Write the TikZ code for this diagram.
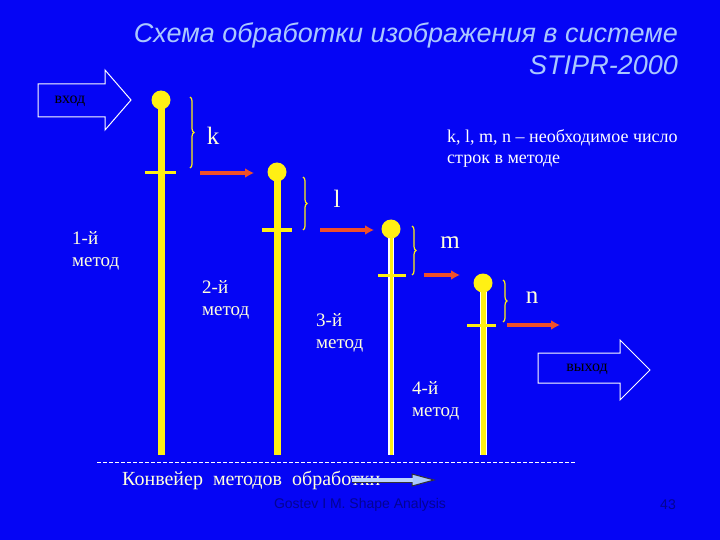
\documentclass[tikz,border=0pt]{standalone}
\usepackage{fontspec}
\setmainfont{Liberation Serif}
\setsansfont{Liberation Sans}
\usetikzlibrary{decorations.pathreplacing,arrows.meta}
\definecolor{bg}{RGB}{5,5,245}
\definecolor{ylw}{RGB}{255,240,20}
\definecolor{redar}{RGB}{240,80,40}
\definecolor{ttl}{RGB}{170,200,255}
\definecolor{txt}{RGB}{255,255,220}
\begin{document}
\begin{tikzpicture}[x=1pt,y=-1pt,
  bar/.style={ylw,line width=7pt},
  dbar/.style={white,line width=6pt,postaction={draw,ylw,line width=3pt}},
  knob/.style={circle,fill=ylw,minimum size=19pt,inner sep=0},
  cross/.style={ylw,line width=3pt},
  brc/.style={draw=ylw,line width=1.2pt,decorate,decoration={brace,amplitude=4pt}},
  redarr/.style={redar,line width=3.5pt,-{Latex[length=9pt,width=10pt]}},
  lbl/.style={txt,font=\fontsize{19}{22}\selectfont,align=left,anchor=north west,inner sep=0},
  big/.style={txt,font=\fontsize{25}{26}\selectfont,inner sep=0},
  blk/.style={draw=white,line width=1pt,fill=bg}]
\fill[bg] (0,0) rectangle (720,540);
\useasboundingbox (0,0) rectangle (720,540);
\node[ttl,font=\sffamily\itshape\fontsize{27}{32}\selectfont,align=right,anchor=north east,inner sep=0] (title) at (678,23) {Схема обработки изображения в системе\\STIPR-2000};
\draw[blk] (38,84) -- (105,84) -- (105,70) -- (131,100) -- (105,130) -- (105,117) -- (38,117) -- cycle;
\node[font=\fontsize{16}{16}\selectfont,text=black,inner sep=0] (in) at (70,101) {вход};
\draw[blk] (538,353) -- (620,353) -- (620,340) -- (650,370) -- (620,400) -- (620,383) -- (538,383) -- cycle;
\node[font=\fontsize{16}{16}\selectfont,text=black,inner sep=0] (out) at (587,369) {выход};
% bars
\coordinate (b1t) at (161,100); \coordinate (b1b) at (161,455);
\coordinate (b2t) at (277,172); \coordinate (b2b) at (277,455);
\coordinate (b3t) at (391,229); \coordinate (b3b) at (391,455);
\coordinate (b4t) at (483,283); \coordinate (b4b) at (483,455);
\draw[bar] (b1t) -- (b1b);
\draw[bar] (b2t) -- (b2b);
\draw[dbar] (b3t) -- (b3b);
\draw[white,line width=7pt,postaction={draw,ylw,line width=5pt}] (b4t) -- (b4b);
\node[knob] (k1) at (b1t) {};
\node[knob] (k2) at (b2t) {};
\node[knob] (k3) at (b3t) {};
\node[knob] (k4) at (b4t) {};
\draw[cross] (145,173) -- (176,173);
\draw[cross] (262,230) -- (292,230);
\draw[cross] (378,275) -- (406,275);
\draw[cross] (467,325) -- (496,325);
\draw[brc] (190,97) -- (190,168);
\draw[brc] (303,177) -- (303,230);
\draw[brc] (412,226) -- (412,275);
\draw[brc] (503,280) -- (503,322);
\node[big] (k) at (213,136) {k};
\node[big] (l) at (337,199) {l};
\node[big] (m) at (450,243) {m};
\node[big] (n) at (532,298) {n};
\coordinate (a1s) at (200,173); \coordinate (a1e) at (254,173);
\coordinate (a2s) at (320,230); \coordinate (a2e) at (374,230);
\coordinate (a3s) at (424,275); \coordinate (a3e) at (460,275);
\coordinate (a4s) at (507,325); \coordinate (a4e) at (560,325);
\draw[redarr] (a1s) -- (a1e);
\draw[redarr] (a2s) -- (a2e);
\draw[redarr] (a3s) -- (a3e);
\draw[redarr] (a4s) -- (a4e);
\node[lbl,white,font=\fontsize{18}{21}\selectfont] (note) at (447,129) {k, l, m, n -- необходимое число\\строк в методе};
\node[lbl] (m1) at (72,231) {1-й\\метод};
\node[lbl] (m2) at (202,280) {2-й\\метод};
\node[lbl] (m3) at (316,313) {3-й\\метод};
\node[lbl] (m4) at (412,381) {4-й\\метод};
\coordinate (dl) at (97,462); \coordinate (dr) at (575,462);
\draw[white,line width=0.8pt,dash pattern=on 4pt off 2pt] (dl) -- (dr);
\node[txt,font=\fontsize{20}{22}\selectfont,anchor=west,inner sep=0] (conv) at (122,480) {Конвейер\ \ методов\ \ обработки};
\coordinate (cs) at (352,480); \coordinate (ce) at (434,480);
\draw[black!80,line width=5pt] (cs) -- (412,480);
\draw[black!80,line width=1pt,fill=ttl] (412,474) -- (ce) -- (412,486) -- cycle;
\draw[ttl!80!white,line width=3.5pt] (cs) -- (413,480);
\node[font=\sffamily\fontsize{14}{14}\selectfont,text=bg!60!black,inner sep=0] (foot) at (360,505) {Gostev I M. Shape Analysis};
\node[font=\sffamily\fontsize{14}{14}\selectfont,text=bg!60!black,inner sep=0] (pg) at (668,505) {43};
\end{tikzpicture}
\end{document}
